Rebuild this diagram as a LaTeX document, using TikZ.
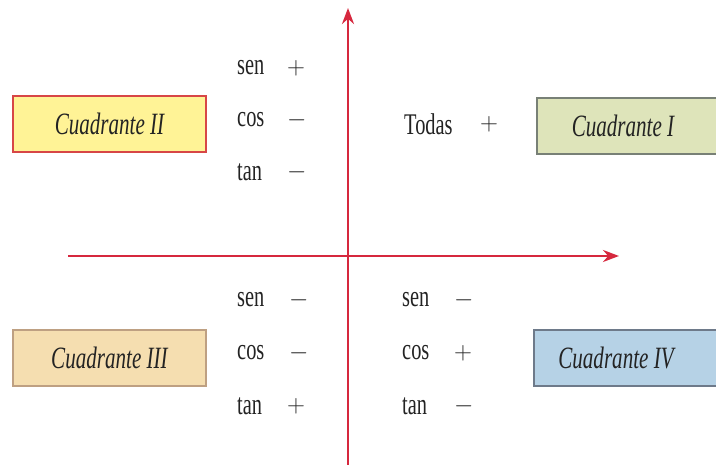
\documentclass[tikz,border=0pt]{standalone}
\usepackage{fontspec}
\setmainfont{Liberation Serif}[FakeStretch=0.68]
\usetikzlibrary{arrows.meta}
\definecolor{axisred}{RGB}{214,40,62}
\definecolor{txt}{RGB}{35,35,35}
\definecolor{fillII}{RGB}{255,243,150}
\definecolor{drawII}{RGB}{215,70,70}
\definecolor{fillI}{RGB}{222,228,186}
\definecolor{drawI}{RGB}{120,128,118}
\definecolor{fillIII}{RGB}{245,222,176}
\definecolor{drawIII}{RGB}{190,160,130}
\definecolor{fillIV}{RGB}{182,210,230}
\definecolor{drawIV}{RGB}{110,122,138}
\tikzset{
  quad/.style={draw, line width=2pt, minimum height=56pt, inner sep=0pt,
    font=\fontsize{31}{31}\selectfont\itshape, text=txt},
  lab/.style={anchor=west, inner sep=0pt, font=\fontsize{30}{30}\selectfont, text=txt},
  sgn/.style={anchor=west, inner sep=0pt, font=\fontsize{26}{26}\selectfont, text=txt},
  axis/.style={draw=axisred, line width=2.6pt, -{Stealth[length=16pt,width=12pt]}}
}
\begin{document}
\begin{tikzpicture}[x=1pt,y=-1pt]
\useasboundingbox (0,0) rectangle (716,465);
% axes
\coordinate (vb) at (348,468);
\coordinate (vt) at (348,8);
\coordinate (hl) at (68,256);
\coordinate (hr) at (619,256);
\draw[axis] (vb) -- (vt);
\draw[axis] (hl) -- (hr);
% quadrant boxes
\node[quad, fill=fillII, draw=drawII, minimum width=193pt] (q2) at (109.5,124) {Cuadrante II};
\node[quad, fill=fillI, draw=drawI, minimum width=200pt] (q1) at (637,126) {\hspace*{-28pt}Cuadrante I};
\node[quad, fill=fillIII, draw=drawIII, minimum width=193pt] (q3) at (109.5,358) {Cuadrante III};
\node[quad, fill=fillIV, draw=drawIV, minimum width=200pt] (q4) at (634,358) {\hspace*{-36pt}Cuadrante IV};
% quadrant II labels
\node[lab] (s2) at (237,68) {sen};
\node[sgn] (s2s) at (287,68) {$+$};
\node[lab] (c2) at (237,120) {cos};
\node[sgn] (c2s) at (287,120) {$-$};
\node[lab] (t2) at (237,172) {tan};
\node[sgn] (t2s) at (287,172) {$-$};
% quadrant I label
\node[lab] (todas) at (404,124) {Todas};
\node[sgn] (todass) at (480,124) {$+$};
% quadrant III labels
\node[lab] (s3) at (237,300) {sen};
\node[sgn] (s3s) at (289,300) {$-$};
\node[lab] (c3) at (237,353) {cos};
\node[sgn] (c3s) at (289,353) {$-$};
\node[lab] (t3) at (237,406) {tan};
\node[sgn] (t3s) at (287,406) {$+$};
% quadrant IV labels
\node[lab] (s4) at (402,300) {sen};
\node[sgn] (s4s) at (454,300) {$-$};
\node[lab] (c4) at (402,353) {cos};
\node[sgn] (c4s) at (454,353) {$+$};
\node[lab] (t4) at (402,406) {tan};
\node[sgn] (t4s) at (454,406) {$-$};
\end{tikzpicture}
\end{document}
